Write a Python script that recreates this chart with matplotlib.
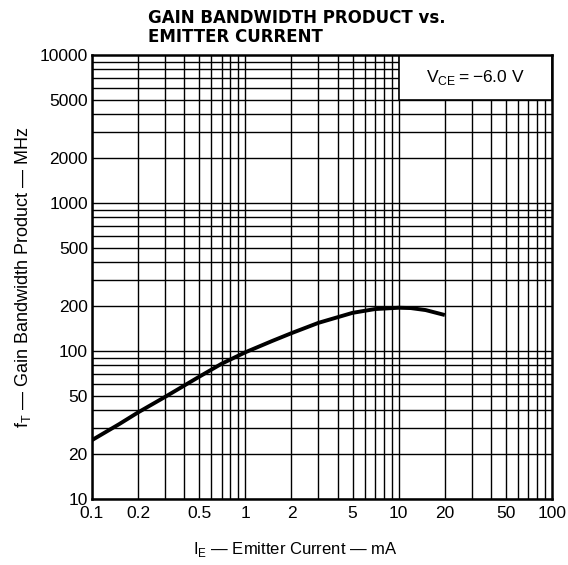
import numpy as np
import matplotlib.pyplot as plt
from matplotlib.patches import Rectangle

# curve (IE in mA, fT in MHz)
ie_ma = [0.1, 0.15, 0.2, 0.3, 0.5, 0.7, 1.0, 1.5, 2.0, 3.0, 5.0, 7.0, 10.0, 12.0, 15.0, 20.0]
ft_mhz = [25, 32, 38.5, 49, 67, 82, 98, 117, 132, 155, 181, 192, 196, 195, 189, 175]

x_ticks = [0.1, 0.2, 0.5, 1, 2, 5, 10, 20, 50, 100]
x_labels = ["0.1", "0.2", "0.5", "1", "2", "5", "10", "20", "50", "100"]
y_ticks = [10, 20, 50, 100, 200, 500, 1000, 2000, 5000, 10000]
y_labels = ["10", "20", "50", "100", "200", "500", "1000", "2000", "5000", "10000"]

plt.rcParams['font.family'] = ['Liberation Sans', 'DejaVu Sans']
plt.rcParams['mathtext.fontset'] = 'custom'
plt.rcParams['mathtext.rm'] = 'Liberation Sans'

fig = plt.figure(figsize=(5.68, 5.65), dpi=100)
ax = fig.add_axes([92 / 568, 1 - 499 / 565, 460 / 568, 444 / 565])

ax.set_xscale('log')
ax.set_yscale('log')
ax.set_xlim(0.1, 100)
ax.set_ylim(10, 10000)

# full grid: every 1..9 step in each decade
for dec in [0.1, 1, 10]:
    for m in range(1, 10):
        ax.axvline(dec * m, color='black', lw=1.0, zorder=1)
for dec in [10, 100, 1000]:
    for m in range(1, 10):
        ax.axhline(dec * m, color='black', lw=1.0, zorder=1)

# condition box in upper right
ax.add_patch(Rectangle((10, 5000), 90, 5000, facecolor='white', edgecolor='black',
                       lw=1.2, zorder=2))
ax.text(np.sqrt(10 * 100), np.sqrt(5000 * 10000), r"V$_\mathrm{CE}$$=-$6.0 V",
        ha='center', va='center', fontsize=12.5, zorder=3)

ax.plot(ie_ma, ft_mhz, color='black', lw=2.8, solid_capstyle='butt', zorder=4)

ax.set_xticks(x_ticks)
ax.set_xticklabels(x_labels)
ax.set_yticks(y_ticks)
ax.set_yticklabels(y_labels)
ax.minorticks_off()
ax.tick_params(length=0, labelsize=12.5)
ax.tick_params(axis='x', pad=5)
ax.tick_params(axis='y', pad=3)

for s in ax.spines.values():
    s.set_linewidth(1.8)
    s.set_zorder(5)

ax.set_xlabel(r"I$_\mathrm{E}$ — Emitter Current — mA", fontsize=12)
ax.xaxis.set_label_coords((295 - 92) / 460, -(540 - 499) / 444)
ax.set_ylabel(r"f$_\mathrm{T}$ — Gain Bandwidth Product — MHz", fontsize=13)
ax.yaxis.set_label_coords(-(92 - 33) / 460, 0.5)

fig.text(148 / 568, 1 - 9 / 565, "GAIN BANDWIDTH PRODUCT vs.\nEMITTER CURRENT",
         ha='left', va='top', fontsize=12, fontweight='bold', linespacing=1.1,
         family='DejaVu Sans')

fig.savefig('out.png', dpi=100)
